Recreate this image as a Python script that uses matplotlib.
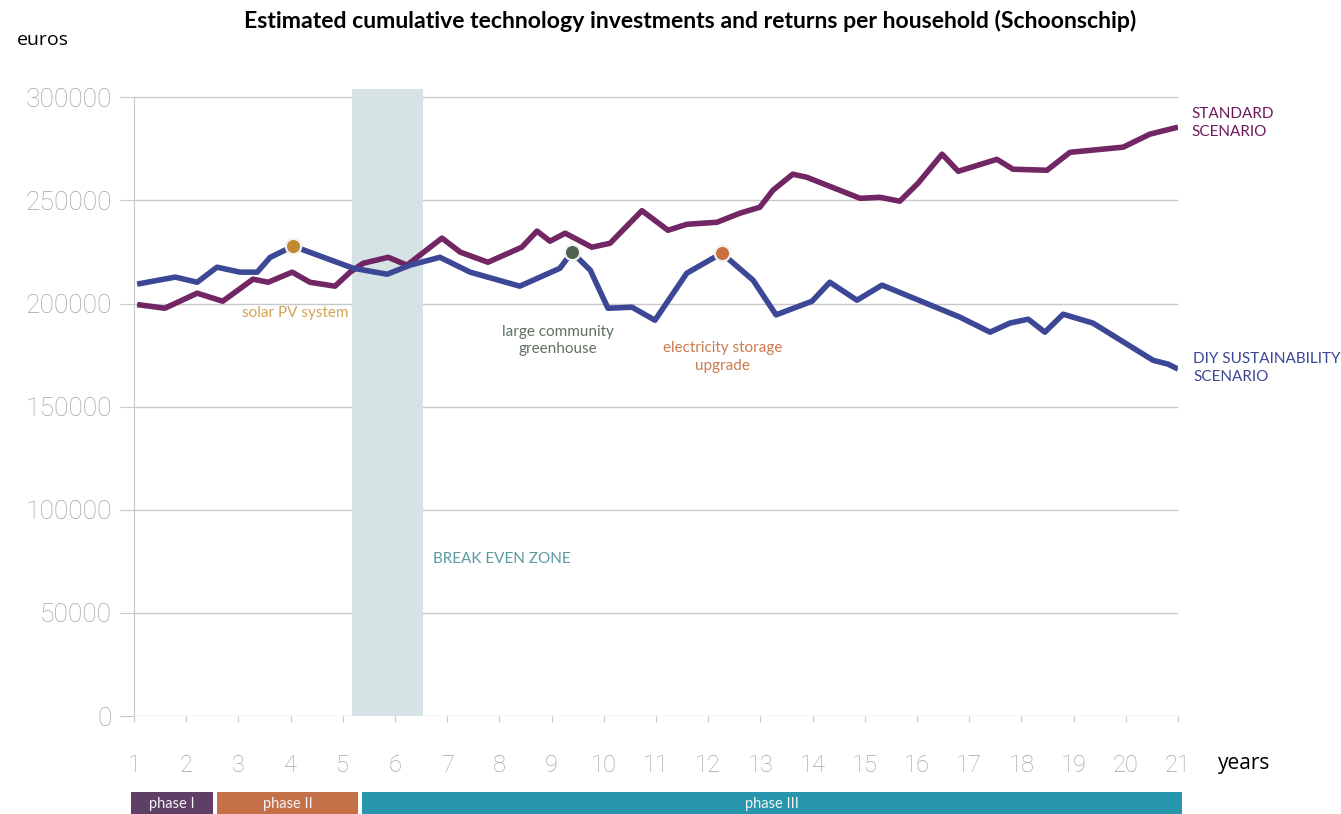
import matplotlib.pyplot as plt
import matplotlib.patches as mpatches
import matplotlib.transforms as mtransforms
import numpy as np

# Standard scenario (years, cumulative euros)
std_years = [1.06, 1.59, 2.21, 2.70, 3.28, 3.57, 4.03, 4.37, 4.85, 5.14, 5.39, 5.87,
             6.23, 6.90, 7.25, 7.78, 8.43, 8.72, 8.97, 9.26, 9.77, 10.12, 10.73,
             11.23, 11.59, 12.17, 12.61, 12.99, 13.24, 13.62, 13.89, 14.91, 15.29,
             15.67, 16.02, 16.48, 16.79, 17.53, 17.84, 18.49, 18.93, 19.95, 20.46, 21.0]
std_values = [199500, 197700, 205000, 201100, 211800, 210300, 215200, 210300, 208400,
              215200, 219500, 222400, 218600, 231700, 224900, 220000, 227300, 235100,
              230200, 234100, 227300, 229200, 245000, 235500, 238400, 239400, 243800,
              246700, 254900, 262700, 261200, 251000, 251500, 249600, 258300, 272400,
              264100, 269900, 265100, 264600, 273300, 275800, 282100, 285500]

# DIY sustainability scenario
diy_years = [1.06, 1.79, 2.21, 2.59, 3.03, 3.36, 3.61, 4.05, 5.20, 5.85, 6.29, 6.86,
             7.44, 8.39, 9.16, 9.39, 9.74, 10.08, 10.54, 10.98, 11.59, 12.26, 12.86,
             13.30, 13.99, 14.33, 14.85, 15.33, 16.82, 17.40, 17.78, 18.13, 18.45,
             18.80, 19.37, 20.52, 20.81, 21.0]
diy_values = [209400, 212800, 210300, 217600, 215200, 215200, 222400, 227800, 217100,
              214200, 218600, 222400, 215200, 208400, 217100, 224900, 216200, 197700,
              198200, 191900, 214700, 224400, 211300, 194500, 201100, 210300, 201600,
              208900, 193400, 186100, 190500, 192400, 186100, 194800, 190500, 172500,
              170600, 168200]

# technology investments on the DIY curve
events = ["solar PV system", "large community\ngreenhouse", "electricity storage\nupgrade"]
event_years = [4.05, 9.39, 12.26]
event_values = [227800, 224900, 224400]
event_label_pos = [(4.08, 195300), (9.12, 182200), (12.28, 174000)]
event_marker_colors = ["#c08a32", "#4f614f", "#c8703f"]
event_text_colors = ["#d1a352", "#5d705f", "#cc7a4e"]

breakeven = (5.18, 6.54)

phases = ["phase I", "phase II", "phase III"]
phase_bounds = [1, 2.55, 5.33, 21]
phase_colors = ["#5e3f66", "#c4714a", "#2596ac"]

years = list(range(1, 22))
yticks = [0, 50000, 100000, 150000, 200000, 250000, 300000]

purple = "#6b1a5c"
blue = "#3c4795"
grid_c = "#c8c8c8"
tick_c = "#a4a4a4"

fig = plt.figure(figsize=(13.41, 8.14), dpi=100)
ax = fig.add_axes([134 / 1341, 1 - 716 / 814, 1044 / 1341, 627 / 814])
ax.set_xlim(1, 21)
ax.set_ylim(0, 304000)

ax.axvspan(breakeven[0], breakeven[1], color="#d5e3e4", lw=0, zorder=1)
ax.plot(std_years, std_values, color=purple, lw=4, solid_joinstyle="round",
        solid_capstyle="butt", alpha=0.95, zorder=3)
ax.plot(diy_years, diy_values, color=blue, lw=4, solid_joinstyle="round",
        solid_capstyle="butt", zorder=4)
for x, y, c in zip(event_years, event_values, event_marker_colors):
    ax.plot(x, y, "o", ms=11, mfc=c, mec="#f2f2f2", mew=1.6, zorder=5)

for txt, (x, y), c in zip(events, event_label_pos, event_text_colors):
    ax.text(x, y, txt, color=c, fontsize=11, family="Lato", ha="center", va="center",
            linespacing=1.3)
ax.text(6.73, 76100, "BREAK EVEN ZONE", color="#5a9aa0", fontsize=11, family="Lato",
        ha="left", va="center")
ax.text(21.25, 287400, "STANDARD\nSCENARIO", color=purple, fontsize=11, family="Lato",
        ha="left", va="center", clip_on=False, linespacing=1.35)
ax.text(21.29, 168700, "DIY SUSTAINABILITY\nSCENARIO", color=blue, fontsize=11,
        family="Lato", ha="left", va="center", clip_on=False, linespacing=1.35)

# axes styling
for s in ["top", "right", "bottom"]:
    ax.spines[s].set_visible(False)
ax.spines["left"].set_color(grid_c)
ax.spines["left"].set_bounds(0, 300000)
ax.set_yticks(yticks)
ax.set_yticklabels([str(v) for v in yticks])
ax.set_xticks(years)
ax.set_xticklabels([str(y) for y in years])
ax.yaxis.grid(True, color=grid_c, lw=1)
ax.set_axisbelow(True)
ax.tick_params(axis="y", length=10, color=grid_c, pad=6, labelsize=19,
               labelcolor=tick_c)
ax.tick_params(axis="x", length=4.5, color=grid_c, pad=23, labelsize=17,
               labelcolor=tick_c)
for lab in ax.get_xticklabels() + ax.get_yticklabels():
    lab.set_family("Roboto")
    lab.set_fontweight("light")

# phase bars under the year axis
trans = mtransforms.blended_transform_factory(ax.transData, ax.transAxes)
for i, name in enumerate(phases):
    x0 = phase_bounds[i] + (0.035 if i > 0 else -0.06)
    x1 = phase_bounds[i + 1] - (0.035 if i < len(phases) - 1 else -0.08)
    ax.add_patch(mpatches.Rectangle((x0, -0.156), x1 - x0, 0.034, transform=trans,
                                    color=phase_colors[i], lw=0, clip_on=False))
    ax.text((x0 + x1) / 2, -0.141, name, transform=trans, ha="center", va="center",
            color="#f4f4f4", fontsize=10.5, family="Lato")

fig.text(690 / 1341, 1 - 21 / 814,
         "Estimated cumulative technology investments and returns per household (Schoonschip)",
         ha="center", va="center", fontsize=16.6, family="Lato", fontweight="bold")
fig.text(17 / 1341, 1 - 40 / 814, "euros", ha="left", va="center", fontsize=14,
         family="Open Sans")
fig.text(1218 / 1341, 1 - 763 / 814, "years", ha="left", va="center", fontsize=15,
         family="Open Sans")

fig.savefig("out.png", dpi=100)
